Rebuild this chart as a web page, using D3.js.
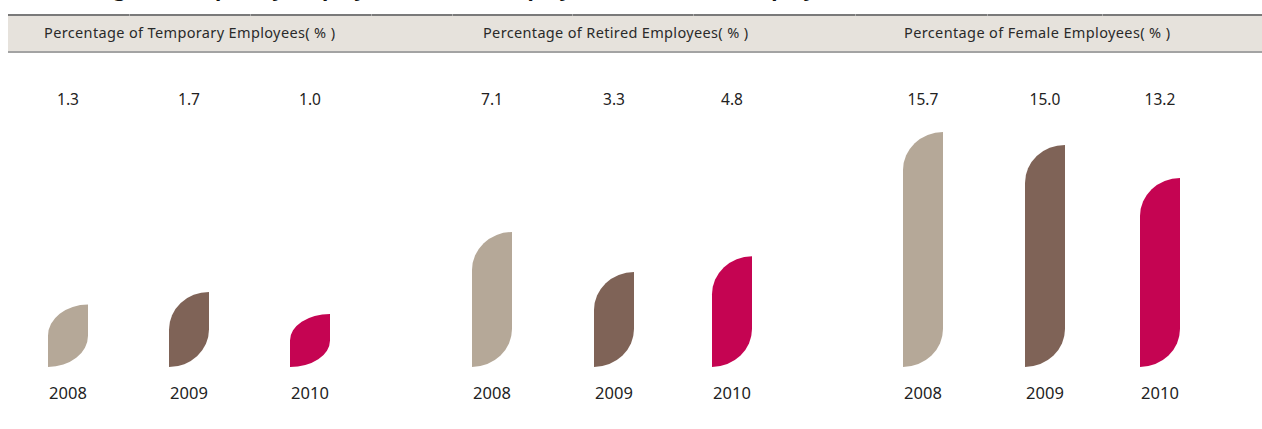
<!DOCTYPE html>
<html>
<head>
<meta charset="utf-8">
<script src="https://cdn.jsdelivr.net/npm/d3@7"></script>
<style>
  body { margin: 0; background: #fff; }
  svg { display: block; font-family: "Noto Sans", "Open Sans", sans-serif; }
</style>
</head>
<body>
<svg id="chart" width="1262" height="429"></svg>
<script>
// data
var title = "Percentage of Temporary Employees, Retired Employees and Female Employees"
var groups = ["Percentage of Temporary Employees( % )", "Percentage of Retired Employees( % )", "Percentage of Female Employees( % )"]
var years = ["2008", "2009", "2010"]
var temporary = [1.3, 1.7, 1.0]
var retired = [7.1, 3.3, 4.8]
var female = [15.7, 15.0, 13.2]
var seriesValues = [temporary, retired, female]
// each panel has its own value range in the original
var groupDomains = [[-0.69, 1.7], [-5.7, 7.1], [2.93, 15.7]]
var yearColors = ["#b5a898", "#7f6357", "#c50452"]

var svg = d3.select("#chart")
var barBottom = 367
var barTop = [292, 232, 132]
var barW = 40

// title sits mostly above the top edge, only descenders show
svg.append("text")
  .text(title)
  .attr("x", 20)
  .attr("y", -4)
  .attr("font-weight", "bold")
  .attr("font-size", 21)
  .attr("fill", "#111")

// header band
svg.append("rect").attr("x", 8).attr("y", 15).attr("width", 1254).attr("height", 37).attr("fill", "#e6e2dc")
svg.append("rect").attr("x", 8).attr("y", 14).attr("width", 1254).attr("height", 2).attr("fill", "#7a7a7a")
svg.append("rect").attr("x", 8).attr("y", 51).attr("width", 1254).attr("height", 2).attr("fill", "#a3a3a3")
var seps = [129, 250, 371, 452, 572, 693, 855, 987, 1102]
seps.forEach(function (sx) {
  svg.append("rect").attr("x", sx).attr("y", 14).attr("width", 1).attr("height", 2).attr("fill", "#a9a9a9")
})

var centers = [[68, 189, 310], [492, 614, 732], [923, 1045, 1160]]
var headerLeft = [44, 483, 904]
var headerWidth = [291, 265, 266]

function leaf(x0, yt, yb, w) {
  var h = yb - yt
  var ry = Math.min(38, h / 2)
  var x1 = x0 + w
  return "M" + x0 + "," + yb +
    "L" + x0 + "," + (yt + ry) +
    "A" + w + "," + ry + " 0 0 1 " + x1 + "," + yt +
    "L" + x1 + "," + (yb - ry) +
    "A" + w + "," + ry + " 0 0 1 " + x0 + "," + yb + "Z"
}

groups.forEach(function (g, gi) {
  svg.append("text")
    .text(g)
    .attr("x", headerLeft[gi])
    .attr("y", 38)
    .attr("textLength", headerWidth[gi])
    .attr("lengthAdjust", "spacing")
    .attr("font-size", 14.5)
    .attr("fill", "#2a2a2a")

  var y = d3.scaleLinear().domain(groupDomains[gi]).range([barBottom, barTop[gi]])
  var vals = seriesValues[gi]

  vals.forEach(function (v, i) {
    var cx = centers[gi][i]
    svg.append("path")
      .attr("d", leaf(cx - barW / 2, y(v), y(groupDomains[gi][0]), barW))
      .attr("fill", yearColors[i])

    svg.append("text")
      .text(v.toFixed(1))
      .attr("x", cx)
      .attr("y", 105)
      .attr("text-anchor", "middle")
      .attr("font-size", 15.5)
      .attr("fill", "#222")

    svg.append("text")
      .text(years[i])
      .attr("x", cx)
      .attr("y", 399)
      .attr("text-anchor", "middle")
      .attr("font-size", 16.5)
      .attr("fill", "#222")
  })
})
</script>
</body>
</html>
